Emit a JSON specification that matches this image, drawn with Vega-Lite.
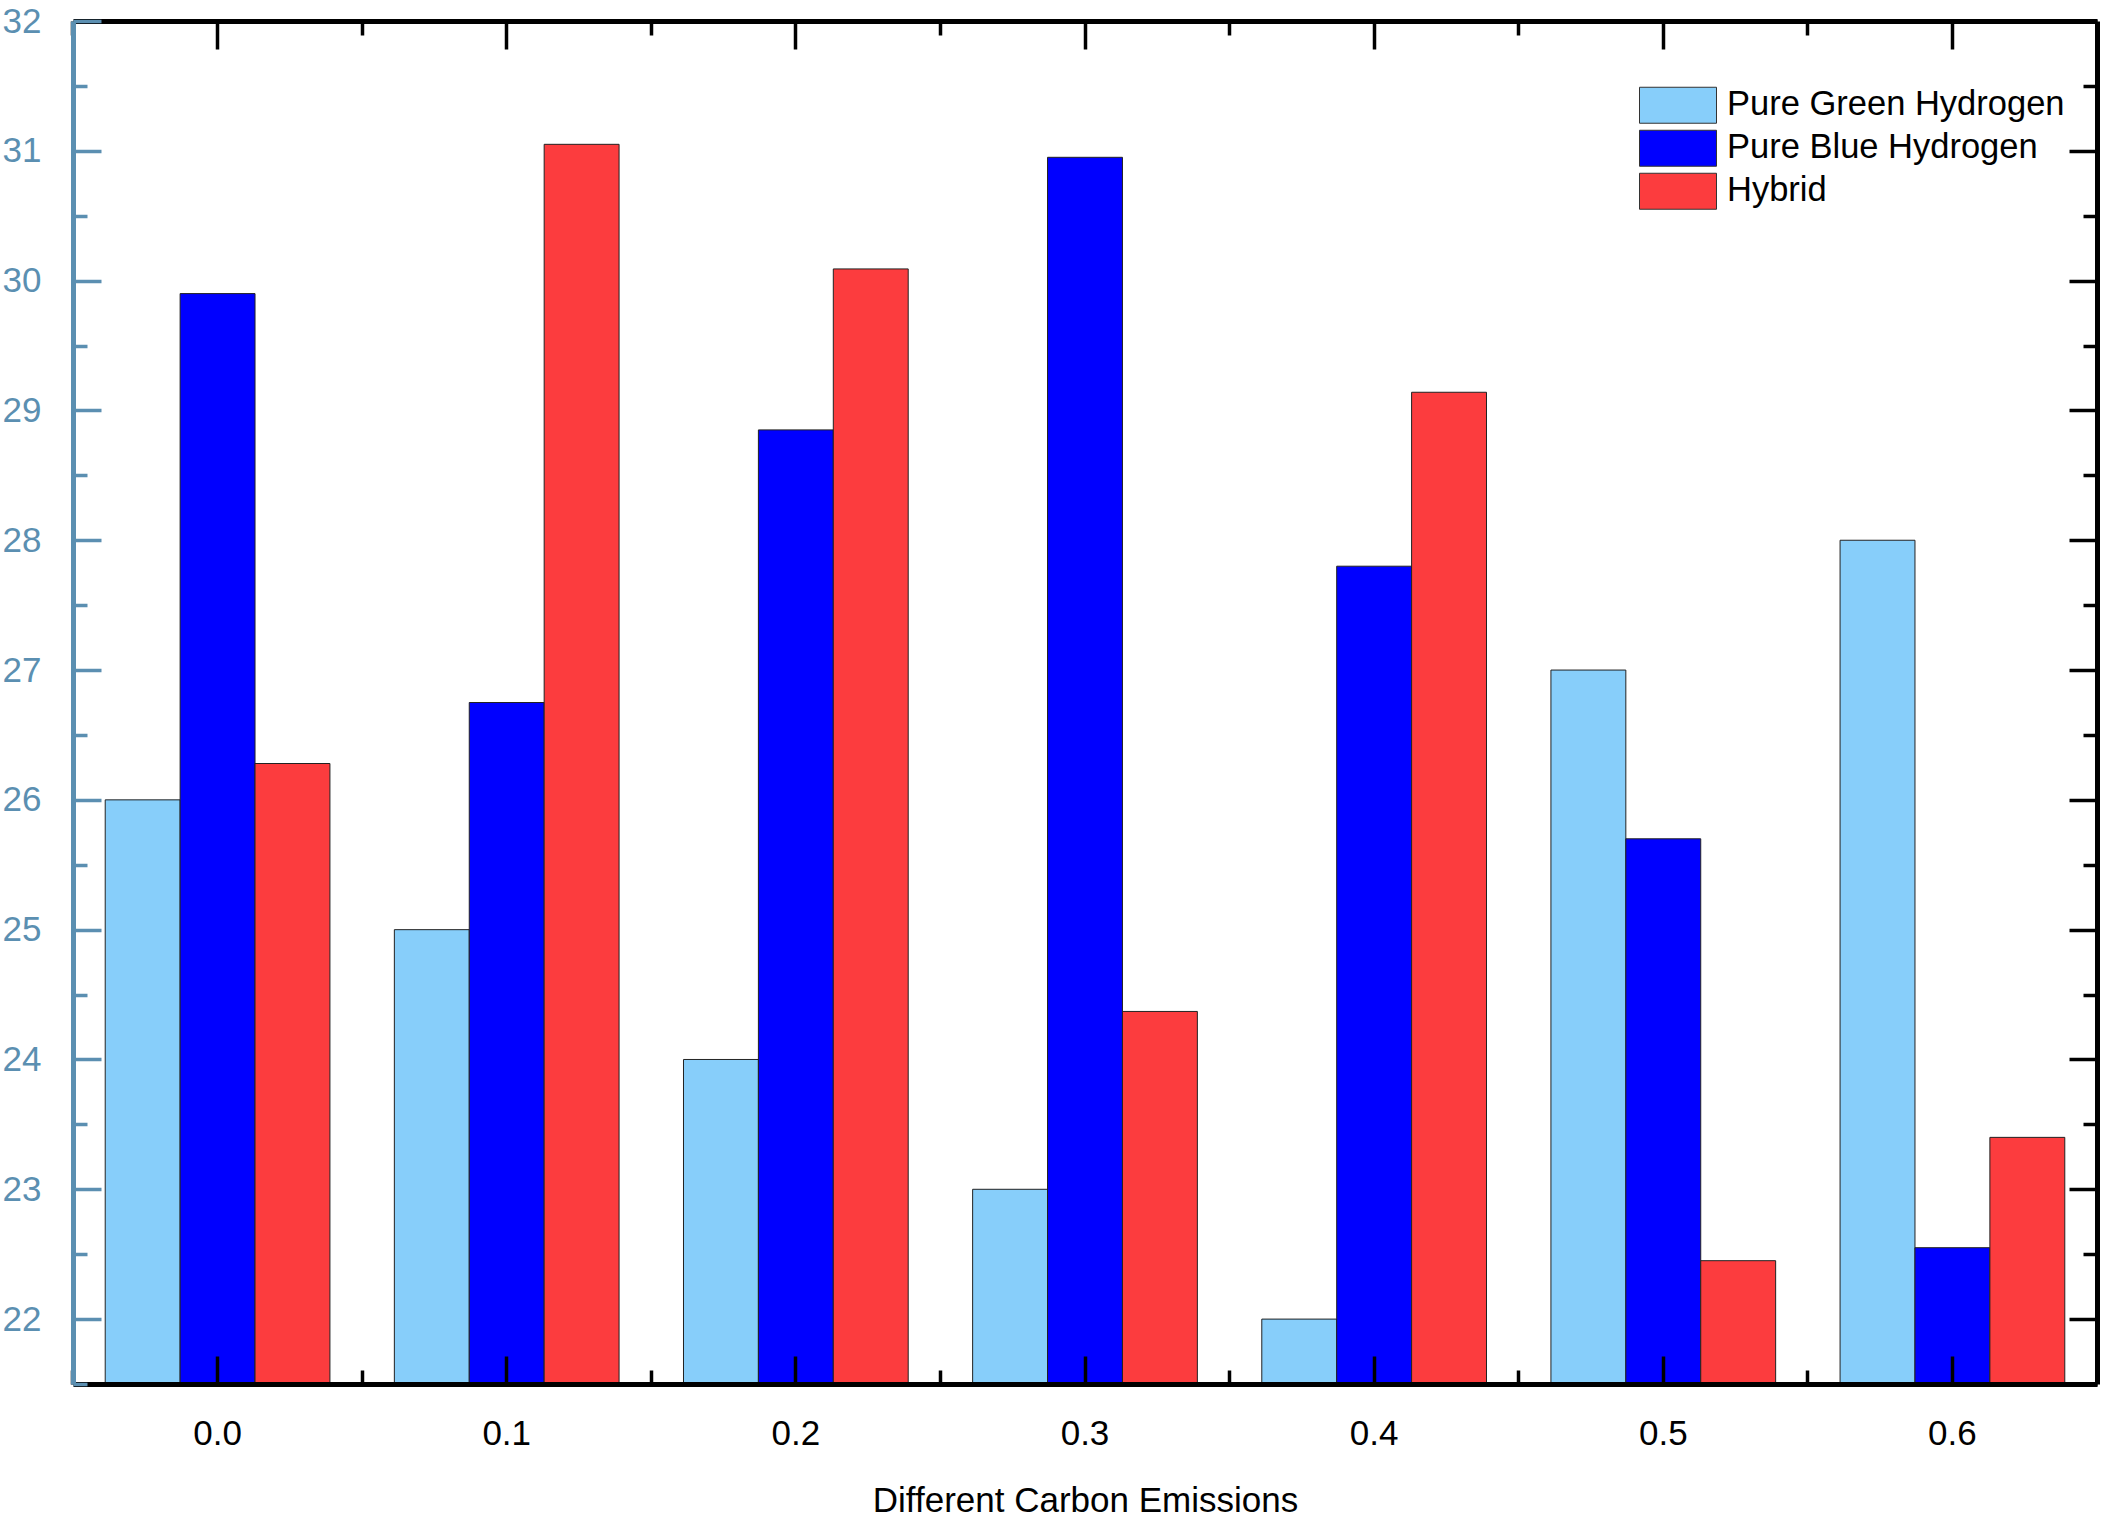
{
  "$schema": "https://vega.github.io/schema/vega-lite/v6.json",
  "width": 2024,
  "height": 1363,
  "autosize": {"type": "none"},
  "padding": {"left": 73, "top": 21, "right": 6, "bottom": 137},
  "background": "white",
  "config": {"view": {"stroke": null}, "font": "Liberation Sans", "axis": {"grid": false}},
  "data": {"values": [
    {"emission": "0.0", "series": "Pure Green Hydrogen", "value": 26.0},
    {"emission": "0.0", "series": "Pure Blue Hydrogen", "value": 29.9},
    {"emission": "0.0", "series": "Hybrid", "value": 26.28},
    {"emission": "0.1", "series": "Pure Green Hydrogen", "value": 25.0},
    {"emission": "0.1", "series": "Pure Blue Hydrogen", "value": 26.75},
    {"emission": "0.1", "series": "Hybrid", "value": 31.05},
    {"emission": "0.2", "series": "Pure Green Hydrogen", "value": 24.0},
    {"emission": "0.2", "series": "Pure Blue Hydrogen", "value": 28.85},
    {"emission": "0.2", "series": "Hybrid", "value": 30.09},
    {"emission": "0.3", "series": "Pure Green Hydrogen", "value": 23.0},
    {"emission": "0.3", "series": "Pure Blue Hydrogen", "value": 30.95},
    {"emission": "0.3", "series": "Hybrid", "value": 24.37},
    {"emission": "0.4", "series": "Pure Green Hydrogen", "value": 22.0},
    {"emission": "0.4", "series": "Pure Blue Hydrogen", "value": 27.8},
    {"emission": "0.4", "series": "Hybrid", "value": 29.14},
    {"emission": "0.5", "series": "Pure Green Hydrogen", "value": 27.0},
    {"emission": "0.5", "series": "Pure Blue Hydrogen", "value": 25.7},
    {"emission": "0.5", "series": "Hybrid", "value": 22.45},
    {"emission": "0.6", "series": "Pure Green Hydrogen", "value": 28.0},
    {"emission": "0.6", "series": "Pure Blue Hydrogen", "value": 22.55},
    {"emission": "0.6", "series": "Hybrid", "value": 23.4}
  ]},
  "layer": [
    {
      "mark": {"type": "bar", "stroke": "#222222", "strokeWidth": 1, "clip": true},
      "encoding": {
        "x": {"field": "emission", "type": "nominal", "sort": ["0.0","0.1","0.2","0.3","0.4","0.5","0.6"],
          "scale": {"paddingInner": 0, "paddingOuter": 0},
          "axis": {"orient": "bottom", "title": "Different Carbon Emissions", "labelAngle": 0, "labelFontSize": 35, "labelColor": "black", "labelPadding": 60,
            "tickSize": -28, "tickWidth": 3.5, "tickColor": "black", "domainColor": "black", "domainWidth": 5,
            "titleFontSize": 35, "titleFontWeight": "normal", "titleColor": "black", "titlePadding": 32, "zindex": 1}},
        "xOffset": {"field": "series", "type": "nominal", "sort": ["Pure Green Hydrogen", "Pure Blue Hydrogen", "Hybrid"],
          "scale": {"paddingInner": 0, "paddingOuter": 0.43}},
        "y": {"field": "value", "type": "quantitative", "scale": {"domain": [21.5, 32], "nice": false, "zero": false},
          "axis": {"orient": "left", "title": null, "values": [22,23,24,25,26,27,28,29,30,31,32], "format": "d",
            "labelFontSize": 35, "labelColor": "#5b8fb1", "labelPadding": 60, "tickSize": -28, "tickWidth": 3.5,
            "tickColor": "#5b8fb1", "domainColor": "#5b8fb1", "domainWidth": 5, "zindex": 2}},
        "color": {"field": "series", "type": "nominal",
          "scale": {"domain": ["Pure Green Hydrogen", "Pure Blue Hydrogen", "Hybrid"], "range": ["#87cefa", "#0000ff", "#fc3c3e"]},
          "legend": {"title": null, "orient": "none", "legendX": 1566, "legendY": 63, "padding": 0,
            "symbolType": "M-1,-0.4675H1V0.4675H-1Z", "symbolSize": 5929, "symbolStrokeColor": "#333333", "symbolStrokeWidth": 1,
            "symbolOpacity": 1, "symbolOffset": 0, "labelFontSize": 34.5, "labelColor": "black", "labelOffset": 10, "labelLimit": 600,
            "clipHeight": 42.5, "rowPadding": 0}}
      }
    },
    {
      "mark": {"type": "point", "opacity": 0},
      "encoding": {
        "x": {"field": "emission", "type": "nominal", "sort": ["0.0","0.1","0.2","0.3","0.4","0.5","0.6"],
          "axis": {"orient": "bottom", "title": null, "labels": false, "domain": false, "bandPosition": 0,
            "tickSize": -14, "tickWidth": 3.5, "tickColor": "black", "zindex": 1}},
        "y": {"field": "value", "type": "quantitative", "scale": {"domain": [21.5, 32], "nice": false, "zero": false},
          "axis": {"orient": "left", "title": null, "labels": false, "domain": false,
            "values": [21.5,22.5,23.5,24.5,25.5,26.5,27.5,28.5,29.5,30.5,31.5],
            "tickSize": -14, "tickWidth": 3.5, "tickColor": "#5b8fb1", "zindex": 2}}
      }
    },
    {
      "mark": {"type": "point", "opacity": 0},
      "encoding": {
        "x": {"field": "emission", "type": "nominal", "sort": ["0.0","0.1","0.2","0.3","0.4","0.5","0.6"],
          "axis": {"orient": "top", "title": null, "labels": false, "domainColor": "black", "domainWidth": 5,
            "tickSize": -28, "tickWidth": 3.5, "tickColor": "black", "zindex": 1}},
        "y": {"field": "value", "type": "quantitative", "scale": {"domain": [21.5, 32], "nice": false, "zero": false},
          "axis": {"orient": "right", "title": null, "labels": false, "domainColor": "black", "domainWidth": 5,
            "values": [22,23,24,25,26,27,28,29,30,31,32],
            "tickSize": -28, "tickWidth": 3.5, "tickColor": "black", "zindex": 1}}
      }
    },
    {
      "mark": {"type": "point", "opacity": 0},
      "encoding": {
        "x": {"field": "emission", "type": "nominal", "sort": ["0.0","0.1","0.2","0.3","0.4","0.5","0.6"],
          "axis": {"orient": "top", "title": null, "labels": false, "domain": false, "bandPosition": 0,
            "tickSize": -14, "tickWidth": 3.5, "tickColor": "black", "zindex": 1}},
        "y": {"field": "value", "type": "quantitative", "scale": {"domain": [21.5, 32], "nice": false, "zero": false},
          "axis": {"orient": "right", "title": null, "labels": false, "domain": false,
            "values": [21.5,22.5,23.5,24.5,25.5,26.5,27.5,28.5,29.5,30.5,31.5],
            "tickSize": -14, "tickWidth": 3.5, "tickColor": "black", "zindex": 1}}
      }
    }
  ],
  "resolve": {"axis": {"x": "independent", "y": "independent"}}
}
